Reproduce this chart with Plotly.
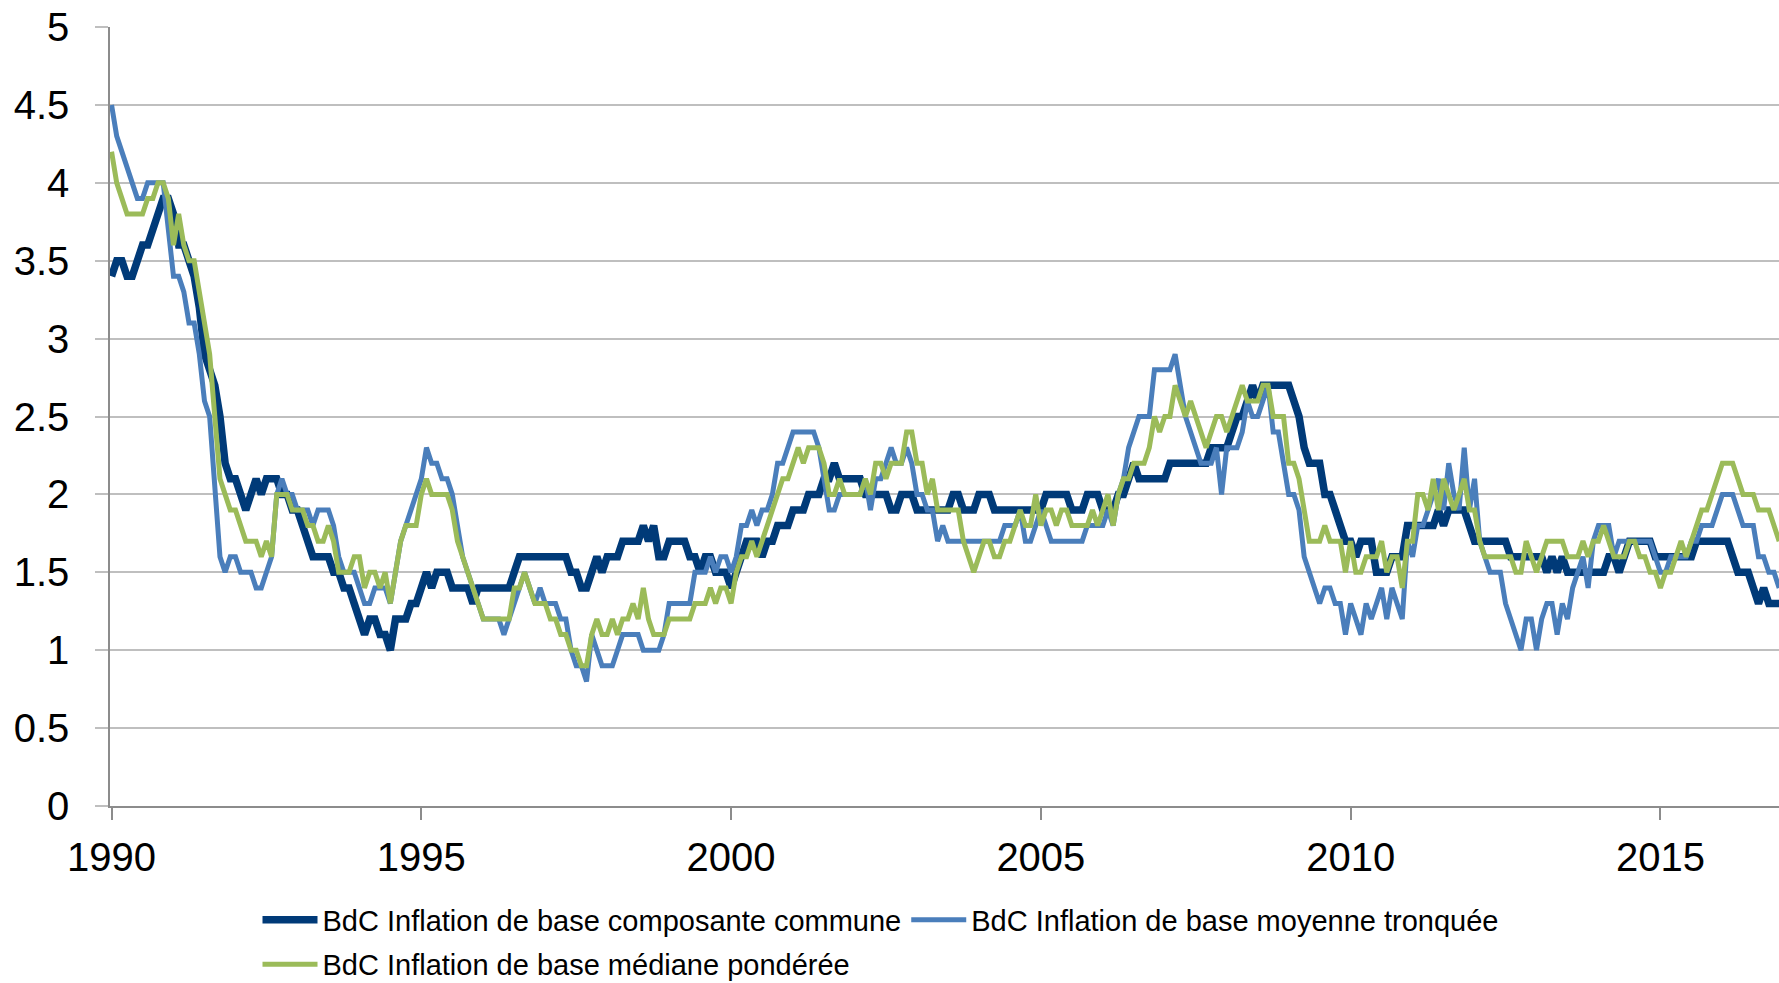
import plotly.graph_objects as go

# Monthly data, Jan 1990 - Dec 2016 (12 values per row = one year)
common = [
    3.4, 3.5, 3.5, 3.4, 3.4, 3.5, 3.6, 3.6, 3.7, 3.8, 3.9, 3.9,  # 1990
    3.8, 3.6, 3.6, 3.5, 3.4, 3.2, 2.9, 2.8, 2.7, 2.5, 2.2, 2.1,  # 1991
    2.1, 2.0, 1.9, 2.0, 2.1, 2.0, 2.1, 2.1, 2.1, 2.0, 2.0, 1.9,  # 1992
    1.9, 1.8, 1.7, 1.6, 1.6, 1.6, 1.6, 1.5, 1.5, 1.4, 1.4, 1.3,  # 1993
    1.2, 1.1, 1.2, 1.2, 1.1, 1.1, 1.0, 1.2, 1.2, 1.2, 1.3, 1.3,  # 1994
    1.4, 1.5, 1.4, 1.5, 1.5, 1.5, 1.4, 1.4, 1.4, 1.4, 1.3, 1.4,  # 1995
    1.4, 1.4, 1.4, 1.4, 1.4, 1.4, 1.5, 1.6, 1.6, 1.6, 1.6, 1.6,  # 1996
    1.6, 1.6, 1.6, 1.6, 1.6, 1.5, 1.5, 1.4, 1.4, 1.5, 1.6, 1.5,  # 1997
    1.6, 1.6, 1.6, 1.7, 1.7, 1.7, 1.7, 1.8, 1.7, 1.8, 1.6, 1.6,  # 1998
    1.7, 1.7, 1.7, 1.7, 1.6, 1.6, 1.5, 1.6, 1.6, 1.5, 1.5, 1.5,  # 1999
    1.4, 1.5, 1.6, 1.7, 1.7, 1.7, 1.6, 1.7, 1.7, 1.8, 1.8, 1.8,  # 2000
    1.9, 1.9, 1.9, 2.0, 2.0, 2.0, 2.1, 2.1, 2.2, 2.1, 2.1, 2.1,  # 2001
    2.1, 2.1, 2.0, 2.0, 2.0, 2.0, 2.0, 1.9, 1.9, 2.0, 2.0, 2.0,  # 2002
    1.9, 1.9, 1.9, 1.9, 1.9, 1.9, 1.9, 2.0, 2.0, 1.9, 1.9, 1.9,  # 2003
    2.0, 2.0, 2.0, 1.9, 1.9, 1.9, 1.9, 1.9, 1.9, 1.9, 1.9, 1.9,  # 2004
    1.9, 2.0, 2.0, 2.0, 2.0, 2.0, 1.9, 1.9, 1.9, 2.0, 2.0, 2.0,  # 2005
    1.9, 1.9, 1.9, 2.0, 2.0, 2.1, 2.2, 2.1, 2.1, 2.1, 2.1, 2.1,  # 2006
    2.1, 2.2, 2.2, 2.2, 2.2, 2.2, 2.2, 2.2, 2.2, 2.3, 2.3, 2.3,  # 2007
    2.3, 2.4, 2.5, 2.5, 2.6, 2.7, 2.6, 2.7, 2.7, 2.7, 2.7, 2.7,  # 2008
    2.7, 2.6, 2.5, 2.3, 2.2, 2.2, 2.2, 2.0, 2.0, 1.9, 1.8, 1.7,  # 2009
    1.7, 1.6, 1.7, 1.7, 1.7, 1.5, 1.5, 1.5, 1.6, 1.6, 1.6, 1.8,  # 2010
    1.8, 1.8, 1.8, 1.8, 1.8, 1.9, 1.8, 1.9, 1.9, 1.9, 1.9, 1.8,  # 2011
    1.7, 1.7, 1.7, 1.7, 1.7, 1.7, 1.7, 1.6, 1.6, 1.6, 1.6, 1.6,  # 2012
    1.6, 1.6, 1.5, 1.6, 1.5, 1.6, 1.5, 1.5, 1.5, 1.5, 1.5, 1.5,  # 2013
    1.5, 1.5, 1.6, 1.6, 1.5, 1.6, 1.7, 1.7, 1.7, 1.7, 1.7, 1.6,  # 2014
    1.6, 1.6, 1.6, 1.6, 1.6, 1.6, 1.6, 1.7, 1.7, 1.7, 1.7, 1.7,  # 2015
    1.7, 1.7, 1.6, 1.5, 1.5, 1.5, 1.4, 1.3, 1.4, 1.3, 1.3, 1.3,  # 2016
]

trim = [
    4.5, 4.3, 4.2, 4.1, 4.0, 3.9, 3.9, 4.0, 4.0, 4.0, 4.0, 3.7,  # 1990
    3.4, 3.4, 3.3, 3.1, 3.1, 2.9, 2.6, 2.5, 2.0, 1.6, 1.5, 1.6,  # 1991
    1.6, 1.5, 1.5, 1.5, 1.4, 1.4, 1.5, 1.6, 2.0, 2.1, 2.0, 2.0,  # 1992
    1.9, 1.9, 1.9, 1.8, 1.9, 1.9, 1.9, 1.8, 1.6, 1.5, 1.5, 1.5,  # 1993
    1.4, 1.3, 1.3, 1.4, 1.4, 1.4, 1.3, 1.5, 1.7, 1.8, 1.9, 2.0,  # 1994
    2.1, 2.3, 2.2, 2.2, 2.1, 2.1, 2.0, 1.8, 1.6, 1.5, 1.4, 1.3,  # 1995
    1.2, 1.2, 1.2, 1.2, 1.1, 1.2, 1.3, 1.4, 1.5, 1.4, 1.3, 1.4,  # 1996
    1.3, 1.3, 1.3, 1.2, 1.2, 1.0, 0.9, 0.9, 0.8, 1.1, 1.0, 0.9,  # 1997
    0.9, 0.9, 1.0, 1.1, 1.1, 1.1, 1.1, 1.0, 1.0, 1.0, 1.0, 1.1,  # 1998
    1.3, 1.3, 1.3, 1.3, 1.3, 1.5, 1.5, 1.5, 1.6, 1.5, 1.6, 1.6,  # 1999
    1.5, 1.6, 1.8, 1.8, 1.9, 1.8, 1.9, 1.9, 2.0, 2.2, 2.2, 2.3,  # 2000
    2.4, 2.4, 2.4, 2.4, 2.4, 2.3, 2.1, 1.9, 1.9, 2.0, 2.0, 2.0,  # 2001
    2.0, 2.0, 2.1, 1.9, 2.1, 2.1, 2.2, 2.3, 2.2, 2.2, 2.3, 2.2,  # 2002
    2.0, 2.0, 1.9, 1.9, 1.7, 1.8, 1.7, 1.7, 1.7, 1.7, 1.7, 1.7,  # 2003
    1.7, 1.7, 1.7, 1.7, 1.7, 1.8, 1.8, 1.8, 1.9, 1.7, 1.7, 1.8,  # 2004
    1.9, 1.8, 1.7, 1.7, 1.7, 1.7, 1.7, 1.7, 1.7, 1.8, 1.8, 1.8,  # 2005
    1.8, 1.9, 1.8, 2.0, 2.1, 2.3, 2.4, 2.5, 2.5, 2.5, 2.8, 2.8,  # 2006
    2.8, 2.8, 2.9, 2.7, 2.5, 2.4, 2.3, 2.2, 2.2, 2.2, 2.3, 2.0,  # 2007
    2.3, 2.3, 2.3, 2.4, 2.6, 2.5, 2.5, 2.6, 2.7, 2.4, 2.4, 2.2,  # 2008
    2.0, 2.0, 1.9, 1.6, 1.5, 1.4, 1.3, 1.4, 1.4, 1.3, 1.3, 1.1,  # 2009
    1.3, 1.2, 1.1, 1.3, 1.2, 1.3, 1.4, 1.2, 1.4, 1.3, 1.2, 1.7,  # 2010
    1.6, 1.8, 1.8, 1.9, 2.0, 2.1, 1.9, 2.2, 2.0, 1.9, 2.3, 1.9,  # 2011
    2.1, 1.7, 1.6, 1.5, 1.5, 1.5, 1.3, 1.2, 1.1, 1.0, 1.2, 1.2,  # 2012
    1.0, 1.2, 1.3, 1.3, 1.1, 1.3, 1.2, 1.4, 1.5, 1.6, 1.4, 1.7,  # 2013
    1.8, 1.8, 1.8, 1.6, 1.7, 1.7, 1.7, 1.7, 1.7, 1.7, 1.7, 1.6,  # 2014
    1.5, 1.5, 1.6, 1.6, 1.6, 1.6, 1.7, 1.7, 1.8, 1.8, 1.8, 1.9,  # 2015
    2.0, 2.0, 2.0, 1.9, 1.8, 1.8, 1.8, 1.6, 1.6, 1.5, 1.5, 1.4,  # 2016
]

median = [
    4.2, 4.0, 3.9, 3.8, 3.8, 3.8, 3.8, 3.9, 3.9, 4.0, 4.0, 3.9,  # 1990
    3.6, 3.8, 3.6, 3.5, 3.5, 3.3, 3.1, 2.9, 2.5, 2.1, 2.0, 1.9,  # 1991
    1.9, 1.8, 1.7, 1.7, 1.7, 1.6, 1.7, 1.6, 2.0, 2.0, 2.0, 1.9,  # 1992
    1.9, 1.9, 1.8, 1.8, 1.7, 1.7, 1.8, 1.7, 1.5, 1.5, 1.5, 1.6,  # 1993
    1.6, 1.4, 1.5, 1.5, 1.4, 1.5, 1.3, 1.5, 1.7, 1.8, 1.8, 1.8,  # 1994
    2.0, 2.1, 2.0, 2.0, 2.0, 2.0, 1.9, 1.7, 1.6, 1.5, 1.4, 1.3,  # 1995
    1.2, 1.2, 1.2, 1.2, 1.2, 1.2, 1.4, 1.4, 1.5, 1.4, 1.3, 1.3,  # 1996
    1.3, 1.2, 1.2, 1.1, 1.1, 1.0, 1.0, 0.9, 0.9, 1.1, 1.2, 1.1,  # 1997
    1.1, 1.2, 1.1, 1.2, 1.2, 1.3, 1.2, 1.4, 1.2, 1.1, 1.1, 1.1,  # 1998
    1.2, 1.2, 1.2, 1.2, 1.2, 1.3, 1.3, 1.3, 1.4, 1.3, 1.4, 1.4,  # 1999
    1.3, 1.5, 1.6, 1.6, 1.7, 1.6, 1.7, 1.8, 1.9, 2.0, 2.1, 2.1,  # 2000
    2.2, 2.3, 2.2, 2.3, 2.3, 2.3, 2.2, 2.0, 2.0, 2.1, 2.0, 2.0,  # 2001
    2.0, 2.0, 2.1, 2.0, 2.2, 2.2, 2.1, 2.2, 2.2, 2.2, 2.4, 2.4,  # 2002
    2.2, 2.2, 2.0, 2.1, 1.9, 1.9, 1.9, 1.9, 1.9, 1.7, 1.6, 1.5,  # 2003
    1.6, 1.7, 1.7, 1.6, 1.6, 1.7, 1.7, 1.8, 1.9, 1.8, 1.8, 2.0,  # 2004
    1.8, 1.9, 1.9, 1.8, 1.9, 1.9, 1.8, 1.8, 1.8, 1.8, 1.9, 1.8,  # 2005
    1.9, 2.0, 1.8, 2.0, 2.1, 2.1, 2.2, 2.2, 2.2, 2.3, 2.5, 2.4,  # 2006
    2.5, 2.5, 2.7, 2.6, 2.5, 2.6, 2.5, 2.4, 2.3, 2.4, 2.5, 2.5,  # 2007
    2.4, 2.5, 2.6, 2.7, 2.6, 2.6, 2.6, 2.7, 2.7, 2.5, 2.5, 2.5,  # 2008
    2.2, 2.2, 2.1, 1.9, 1.7, 1.7, 1.7, 1.8, 1.7, 1.7, 1.7, 1.5,  # 2009
    1.7, 1.5, 1.5, 1.6, 1.6, 1.6, 1.7, 1.5, 1.6, 1.6, 1.4, 1.7,  # 2010
    1.7, 2.0, 2.0, 1.9, 2.1, 1.9, 2.1, 2.0, 1.9, 2.0, 2.1, 1.9,  # 2011
    1.9, 1.7, 1.6, 1.6, 1.6, 1.6, 1.6, 1.6, 1.5, 1.5, 1.7, 1.6,  # 2012
    1.5, 1.6, 1.7, 1.7, 1.7, 1.7, 1.6, 1.6, 1.6, 1.7, 1.6, 1.7,  # 2013
    1.7, 1.8, 1.7, 1.6, 1.6, 1.6, 1.7, 1.7, 1.6, 1.6, 1.5, 1.5,  # 2014
    1.4, 1.5, 1.5, 1.6, 1.7, 1.6, 1.7, 1.8, 1.9, 1.9, 2.0, 2.1,  # 2015
    2.2, 2.2, 2.2, 2.1, 2.0, 2.0, 2.0, 1.9, 1.9, 1.9, 1.8, 1.7,  # 2016
]

start_year = 1990
x_ticks = [1990, 1995, 2000, 2005, 2010, 2015]
x_ticklabels = ["1990", "1995", "2000", "2005", "2010", "2015"]
y_ticks = [0, 0.5, 1, 1.5, 2, 2.5, 3, 3.5, 4, 4.5, 5]
y_ticklabels = ["0", "0.5", "1", "1.5", "2", "2.5", "3", "3.5", "4", "4.5", "5"]

names = [
    "BdC Inflation de base composante commune",
    "BdC Inflation de base moyenne tronquée",
    "BdC Inflation de base médiane pondérée",
]
colors = ["#003A78", "#4A7EBB", "#9BBB59"]
widths = [7.5, 5, 5]

x = [start_year + i / 12 for i in range(len(common))]

fig = go.Figure()
for series, name, color, w, lg in zip(
    [common, trim, median], names, colors, widths, ["legend", "legend", "legend2"]
):
    fig.add_trace(
        go.Scatter(
            x=x, y=series, mode="lines", name=name,
            line=dict(color=color, width=w),
            legend=lg,
        )
    )

FONT = "Liberation Sans, Arial, sans-serif"
GRID = "#BFBFBF"
AXIS = "#8C8C8C"

fig.update_layout(
    width=1779, height=983,
    margin=dict(l=110, r=0, t=27, b=177, pad=0, autoexpand=False),
    paper_bgcolor="white", plot_bgcolor="white",
    font=dict(family=FONT, color="black"),
    xaxis=dict(
        range=[1990 - 0.3 / 12, 1990 + 322.97 / 12],
        tickvals=x_ticks, ticktext=x_ticklabels,
        tickfont=dict(size=40),
        ticks="outside", ticklen=12, tickwidth=1.5, tickcolor=AXIS,
        ticklabelstandoff=3,
        showline=True, linecolor=AXIS, linewidth=1.5,
        showgrid=False, zeroline=False, automargin=False,
    ),
    yaxis=dict(
        range=[0, 5],
        tickvals=y_ticks, ticktext=y_ticklabels,
        tickfont=dict(size=40),
        ticks="outside", ticklen=13, tickwidth=1.5, tickcolor=GRID,
        ticklabelstandoff=18,
        showline=True, linecolor=AXIS, linewidth=1.5,
        showgrid=True, gridcolor=GRID, gridwidth=1.5,
        zeroline=False, automargin=False,
    ),
    legend=dict(
        orientation="h", x=(257.5 - 110) / 1669, xanchor="left",
        y=-0.1134, yanchor="top",
        font=dict(size=29), itemwidth=55,
        bgcolor="rgba(0,0,0,0)", traceorder="normal",
    ),
    legend2=dict(
        orientation="h", x=(257.5 - 110) / 1669, xanchor="left",
        y=-0.1705, yanchor="top",
        font=dict(size=29), itemwidth=55,
        bgcolor="rgba(0,0,0,0)",
    ),
)

fig.write_html(
    "out.html",
    config={"displayModeBar": False},
    post_script="document.body.style.margin='0px';document.body.style.overflow='hidden';",
)
